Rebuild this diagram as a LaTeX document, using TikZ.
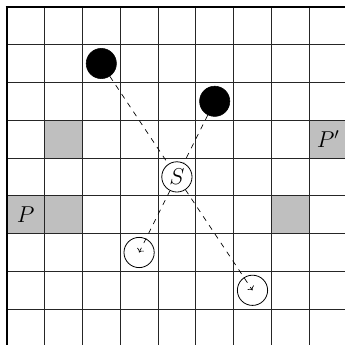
\documentclass[tikz,border=0pt]{standalone}
\usetikzlibrary{arrows.meta}
\begin{document}
\begin{tikzpicture}[
  gridline/.style={line width=0.6pt, black!85},
  grayed/.style={fill=black!25},
  blk/.style={circle, fill=black, draw=black, minimum size=0.8cm, inner sep=0pt},
  wc/.style={circle, draw=black, line width=0.6pt, fill=white, minimum size=0.8cm, inner sep=0pt, font=\LARGE},
  lbl/.style={font=\LARGE, inner sep=0pt},
  path/.style={dash pattern=on 4pt off 4pt, line width=0.5pt}
]
\useasboundingbox (-0.18,0.06) rectangle (8.947,9.18);
\clip (-0.18,0.06) rectangle (8.947,9.18);
% gray cells
\fill[grayed] (1,5) rectangle (2,6);
\fill[grayed] (8,5) rectangle (9,6);
\fill[grayed] (0,3) rectangle (1,4);
\fill[grayed] (1,3) rectangle (2,4);
\fill[grayed] (7,3) rectangle (8,4);
% grid
\draw[gridline] (0,0) grid (9,9);
\draw[line width=1.6pt] (0,0) -- (0,9);
\draw[line width=1.1pt] (-0.028,9) -- (9,9);
% labels
\node[lbl] (P) at (0.5,3.5) {$P$};
\node[lbl] (Pp) at (8.5,5.5) {$P'$};
% pieces
\node[blk] (b1) at (2.5,7.5) {};
\node[blk] (b2) at (5.5,6.5) {};
\node[wc] (S) at (4.5,4.5) {$S$};
\node[wc] (c1) at (3.5,2.5) {};
\node[wc] (c2) at (6.5,1.5) {};
% moves
\draw[path] (b1) -- (S);
\draw[path] (b2) -- (S);
\draw[path, ->] (S) -- (c1.center);
\draw[path, ->] (S) -- (c2.center);
\end{tikzpicture}
\end{document}
